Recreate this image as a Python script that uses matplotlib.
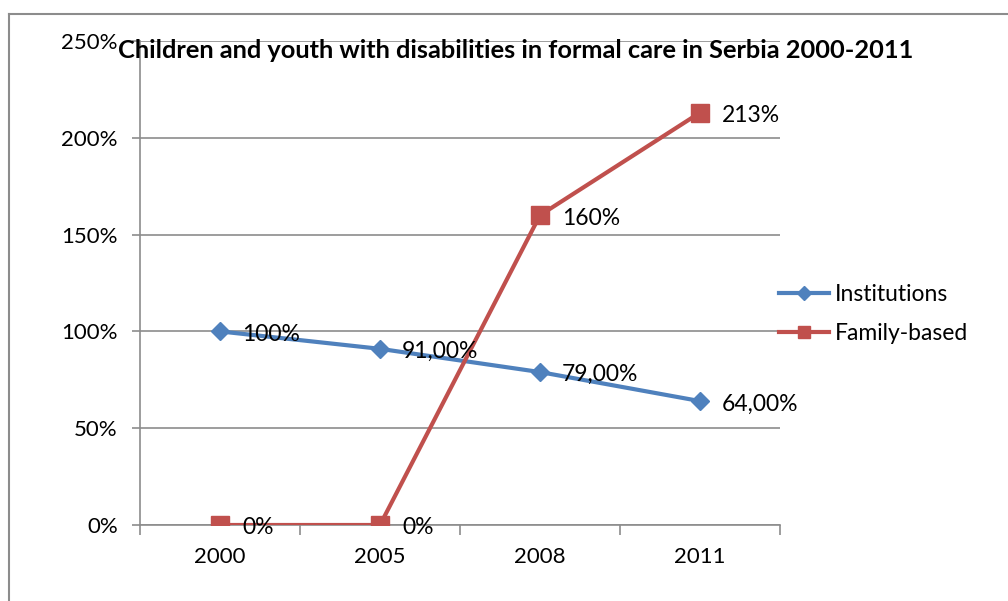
import matplotlib.pyplot as plt
from matplotlib.lines import Line2D
import numpy as np

plt.rcParams['font.family'] = ['Lato', 'DejaVu Sans']

years = ['2000', '2005', '2008', '2011']
institutions = [100, 91, 79, 64]
family_based = [0, 0, 160, 213]
inst_labels = ['100%', '91,00%', '79,00%', '64,00%']
fam_labels = ['0%', '0%', '160%', '213%']

blue = '#4F81BD'
red = '#C0504D'
grid_col = '#8C8C8C'

fig = plt.figure(figsize=(10.08, 6.01), dpi=100)
ax = fig.add_axes([140 / 1008, 1 - 525 / 601, 640 / 1008, 484 / 601])

x = np.arange(len(years))
ax.plot(x, institutions, color=blue, lw=3, marker='D', ms=9.5, zorder=3)
ax.plot(x, family_based, color=red, lw=3, marker='s', ms=13.5, zorder=3)

for xi, v, t in zip(x, institutions, inst_labels):
    ax.annotate(t, (xi, v), xytext=(16, -2), textcoords='offset points',
                ha='left', va='center', fontsize=16.5, zorder=4)
for xi, v, t in zip(x, family_based, fam_labels):
    ax.annotate(t, (xi, v), xytext=(16, -2), textcoords='offset points',
                ha='left', va='center', fontsize=16.5, zorder=4)

ax.set_xlim(-0.5, 3.5)
ax.set_ylim(0, 250)
ax.set_yticks([0, 50, 100, 150, 200, 250])
ax.set_yticklabels(['0%', '50%', '100%', '150%', '200%', '250%'], fontsize=16)
ax.set_xticks(np.arange(-0.5, 4, 1))
ax.set_xticklabels([])
ax.set_xticks(x, minor=True)
ax.set_xticklabels(years, minor=True, fontsize=16)
ax.tick_params(axis='x', which='major', length=7, color=grid_col, width=1.2)
ax.tick_params(axis='x', which='minor', length=0, pad=16)
ax.tick_params(axis='y', length=6, color=grid_col, width=1.2, pad=10)

ax.grid(axis='y', color=grid_col, lw=1.2)
ax.set_axisbelow(True)
for s in ['top', 'right']:
    ax.spines[s].set_visible(False)
for s in ['left', 'bottom']:
    ax.spines[s].set_color(grid_col)
    ax.spines[s].set_linewidth(1.2)

fig.text(516 / 1008, 1 - 50 / 601,
         'Children and youth with disabilities in formal care in Serbia 2000-2011',
         ha='center', va='center', fontsize=18.3, fontweight='bold')

handles = [Line2D([], [], color=blue, lw=3, marker='D', ms=7),
           Line2D([], [], color=red, lw=3, marker='s', ms=9)]
fig.legend(handles, ['Institutions', 'Family-based'], loc='center left',
           bbox_to_anchor=(779 / 1008, 1 - 314 / 601), frameon=False,
           fontsize=16.5, handlelength=2.2, handletextpad=0.25,
           borderpad=0, borderaxespad=0, labelspacing=0.75)

# outer chart border (cut off at right and bottom)
fig.add_artist(Line2D([9 / 1008, 9 / 1008], [0, 1 - 14 / 601],
                      transform=fig.transFigure, color='#8C8C8C', lw=1.5))
fig.add_artist(Line2D([9 / 1008, 1], [1 - 14 / 601, 1 - 14 / 601],
                      transform=fig.transFigure, color='#8C8C8C', lw=1.5))

fig.savefig('out.png', dpi=100)
